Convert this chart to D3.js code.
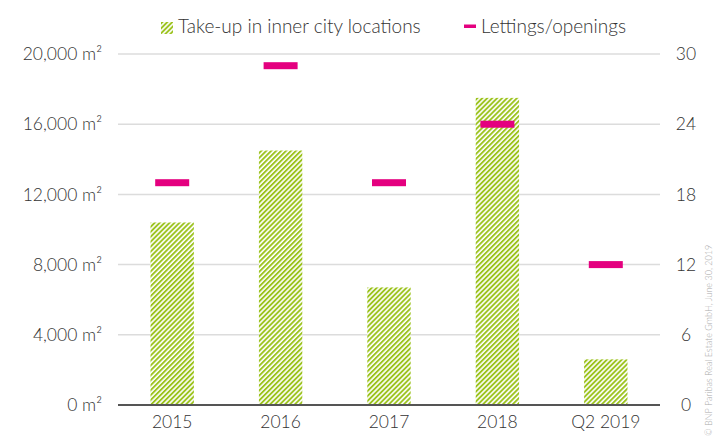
<!DOCTYPE html>
<html><head><meta charset="utf-8">
<script src="https://cdn.jsdelivr.net/npm/d3@7"></script>
<style>
html,body{margin:0;padding:0;background:#fff;}
text{font-family:Lato, "Open Sans", sans-serif;fill:#333;font-weight:300;}
</style></head>
<body><svg id="c" width="715" height="436"></svg>
<script>
const categories = ["2015","2016","2017","2018","Q2 2019"];
const takeUp = [10400, 14500, 6700, 17500, 2600];
const lettings = [19, 29, 19, 24, 12];
const leftTicks = [0, 4000, 8000, 12000, 16000, 20000];
const rightTicks = [0, 6, 12, 18, 24, 30];

const svg = d3.select("#c");
const m = {l:118, r:660, t:54, b:405};
const defs = svg.append("defs");
const pat = defs.append("pattern").attr("id","hatch").attr("patternUnits","userSpaceOnUse")
  .attr("width",3.5).attr("height",3.5).attr("patternTransform","rotate(45)");
pat.append("rect").attr("width",3.5).attr("height",3.5).attr("fill","#fff");
pat.append("rect").attr("x",0).attr("width",1.9).attr("height",3.5).attr("fill","#9cc31e");

const x = d3.scaleBand().domain(categories).range([m.l, m.r]).paddingInner(0.6).paddingOuter(0.3);
const yL = d3.scaleLinear().domain([0,20000]).range([m.b, m.t]);
const yR = d3.scaleLinear().domain([0,30]).range([m.b, m.t]);

// gridlines
svg.append("g").selectAll("line").data(leftTicks.slice(1)).join("line")
  .attr("x1", m.l).attr("x2", m.r).attr("y1", d=>yL(d)).attr("y2", d=>yL(d))
  .attr("stroke","#dcdcdc").attr("stroke-width",1.5);

// bars
svg.append("g").selectAll("rect").data(takeUp).join("rect")
  .attr("x",(d,i)=>x(categories[i])).attr("width",x.bandwidth())
  .attr("y",d=>yL(d)).attr("height",d=>m.b-yL(d)).attr("fill","url(#hatch)");

// baseline
svg.append("line").attr("x1",m.l).attr("x2",m.r).attr("y1",m.b).attr("y2",m.b)
  .attr("stroke","#555").attr("stroke-width",2);

// lettings markers
const mw = 34;
svg.append("g").selectAll("rect").data(lettings).join("rect")
  .attr("x",(d,i)=>x(categories[i])+x.bandwidth()/2-mw/2).attr("width",mw)
  .attr("y",d=>yR(d)-3.5).attr("height",7).attr("fill","#e4007f");

// left axis
const gl = svg.append("g").attr("transform",`translate(${m.l},0)`)
  .call(d3.axisLeft(yL).tickValues(leftTicks).tickSize(0).tickPadding(16)
  .tickFormat(d=>d3.format(",")(d)+" m²"));
gl.select(".domain").remove();
gl.selectAll("text").attr("font-size",17.5).style("font-family","Lato, sans-serif").style("font-weight",300).attr("fill","#333");

// right axis
const gr = svg.append("g").attr("transform",`translate(${m.r},0)`)
  .call(d3.axisRight(yR).tickValues(rightTicks).tickSize(0).tickPadding(26));
gr.select(".domain").remove();
gr.selectAll("text").attr("font-size",17.5).attr("text-anchor","middle").style("font-family","Lato, sans-serif").style("font-weight",300).attr("fill","#333");

// bottom axis
const gb = svg.append("g").attr("transform",`translate(0,${m.b})`)
  .call(d3.axisBottom(x).tickSize(0).tickPadding(11));
gb.select(".domain").remove();
gb.selectAll("text").attr("font-size",17.5).style("font-family","Lato, sans-serif").style("font-weight",300).attr("fill","#333");

// legend
svg.append("rect").attr("x",161).attr("y",22).attr("width",12).attr("height",12).attr("fill","url(#hatch)");
svg.append("text").attr("x",178).attr("y",33).attr("font-size",19).text("Take-up in inner city locations");
svg.append("rect").attr("x",464).attr("y",24.5).attr("width",12).attr("height",3.5).attr("fill","#e4007f");
svg.append("text").attr("x",481).attr("y",33).attr("font-size",19).text("Lettings/openings");

// copyright
svg.append("text").attr("transform","translate(714,436) rotate(-90)").attr("x",0).attr("y",-2)
  .attr("font-size",9).style("fill","#aaa").text("© BNP Paribas Real Estate GmbH, June 30, 2019");
</script></body></html>
